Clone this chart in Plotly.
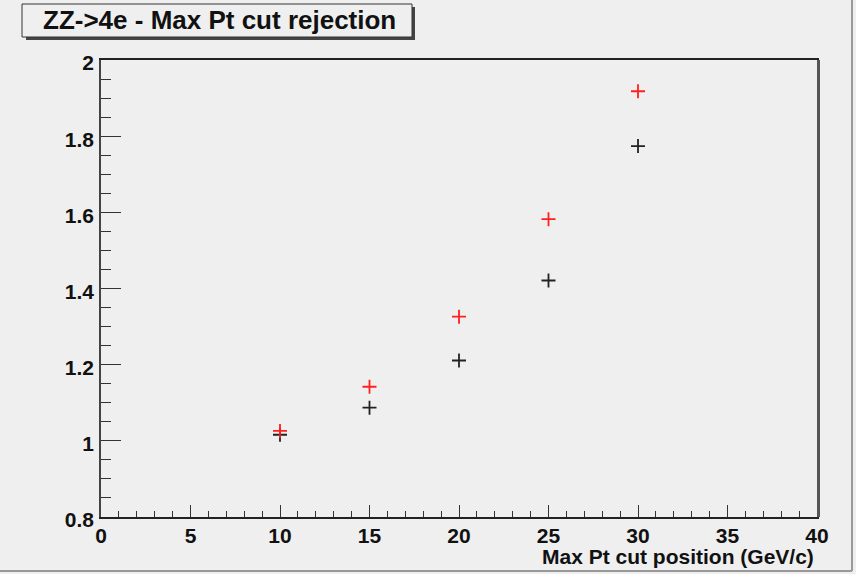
import plotly.graph_objects as go

cut_pos = [10, 15, 20, 25, 30]
rej_black = [1.016, 1.087, 1.211, 1.421, 1.774]
rej_red = [1.026, 1.142, 1.326, 1.582, 1.918]
title_text = "ZZ->4e - Max Pt cut rejection"
xaxis_title = "Max Pt cut position (GeV/c)"

W, H = 856, 574
L, R, T, B = 101, 817, 60, 517

def px(x):
    return (x - L) / (R - L)

def py(y):
    return (B - y) / (B - T)

BG = "#efefef"
FONT = "Liberation Sans"

fig = go.Figure()
fig.add_trace(go.Scatter(x=cut_pos, y=rej_black, mode="markers",
                         marker=dict(symbol="cross-thin", size=10,
                                     line=dict(color="#222222", width=1.8)),
                         showlegend=False))
fig.add_trace(go.Scatter(x=cut_pos, y=rej_red, mode="markers",
                         marker=dict(symbol="cross-thin", size=10,
                                     line=dict(color="#ff2020", width=1.8)),
                         showlegend=False))

tickfont = dict(family=FONT, size=21, color="#111111", weight="bold")
fig.update_xaxes(range=[0, 40], tickmode="linear", tick0=0, dtick=5,
                 ticks="inside", ticklen=12, tickwidth=1, tickcolor="#333333",
                 minor=dict(ticks="inside", dtick=1, ticklen=6, tickwidth=1,
                            tickcolor="#333333"),
                 showgrid=False, zeroline=False, showline=True, linecolor="#222222",
                 linewidth=1.5, mirror=True, tickfont=tickfont,
                 ticklabelstandoff=-1)
fig.update_yaxes(range=[0.8, 2.0], tickmode="linear", tick0=0.8, dtick=0.2,
                 ticks="inside", ticklen=20, tickwidth=1, tickcolor="#333333",
                 minor=dict(ticks="inside", dtick=0.05, ticklen=10, tickwidth=1,
                            tickcolor="#333333"),
                 showgrid=False, zeroline=False, showline=True, linecolor="#444444",
                 linewidth=1.5, mirror=True, tickfont=tickfont,
                 ticklabelstandoff=1, ticklabelshift=3)

shapes = []
# frame shadow on right side
shapes.append(dict(type="line", xref="paper", yref="paper", x0=px(R + 1.5), x1=px(R + 1.5),
                   y0=py(B), y1=py(T), line=dict(color="#555555", width=3)))
# title box shadow
shapes.append(dict(type="rect", xref="paper", yref="paper",
                   x0=px(26), x1=px(415), y0=py(40), y1=py(7),
                   fillcolor="#444444", line=dict(width=0), layer="below"))
shapes.append(dict(type="rect", xref="paper", yref="paper",
                   x0=px(22), x1=px(412), y0=py(37), y1=py(4),
                   fillcolor=BG, line=dict(color="#333333", width=1), layer="below"))
# canvas border
shapes.append(dict(type="line", xref="paper", yref="paper", x0=px(0), x1=px(852),
                   y0=py(571), y1=py(571), line=dict(color="#999999", width=2)))
shapes.append(dict(type="line", xref="paper", yref="paper", x0=px(852), x1=px(852),
                   y0=py(0), y1=py(571), line=dict(color="#999999", width=2)))

annotations = [
    dict(text=title_text, xref="paper", yref="paper", x=px(219), y=py(20),
         xanchor="center", yanchor="middle", showarrow=False,
         font=dict(family=FONT, size=26, color="#111111", weight="bold")),
    dict(text=xaxis_title, xref="paper", yref="paper", x=px(R - 1), y=py(556),
         xanchor="right", yanchor="middle", showarrow=False,
         font=dict(family=FONT, size=21, color="#111111", weight="bold")),
]

fig.update_layout(width=W, height=H,
                  margin=dict(l=L, r=W - R, t=T, b=H - B, pad=0),
                  paper_bgcolor=BG, plot_bgcolor=BG,
                  shapes=shapes, annotations=annotations, showlegend=False)

fig.write_html("out.html")
